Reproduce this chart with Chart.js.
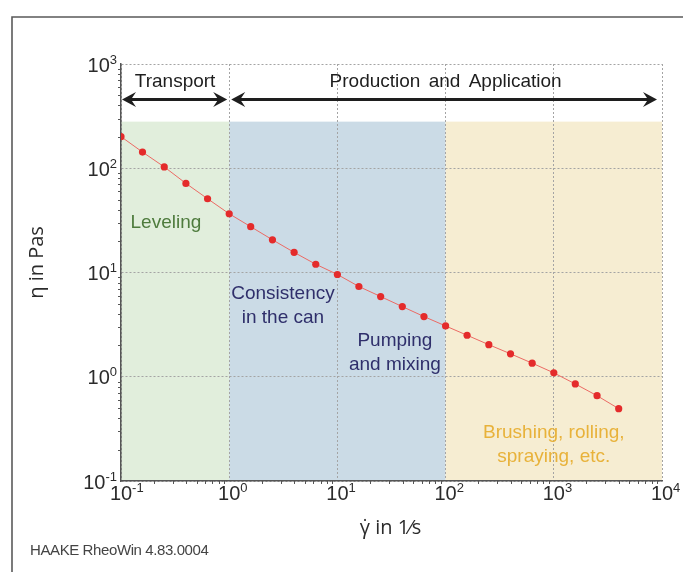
<!DOCTYPE html>
<html>
<head>
<meta charset="utf-8">
<script src="https://cdn.jsdelivr.net/npm/chart.js@4.4.1/dist/chart.umd.min.js"></script>
<style>
  html, body { margin: 0; padding: 0; background: #fff; }
  #wrap { width: 683px; height: 572px; position: relative; }
</style>
</head>
<body>
<div id="wrap"><canvas id="flowCurve" width="683" height="572"></canvas></div>
<script>
// Shear rate (1/s) and viscosity (Pa·s) of the measured flow curve
const shearRate = [0.1, 0.158, 0.251, 0.398, 0.631, 1, 1.58, 2.51, 3.98, 6.31,
                   10, 15.8, 25.1, 39.8, 63.1, 100, 158, 251, 398, 631,
                   1000, 1580, 2510, 3980];
const viscosity = [201, 143, 103, 71.6, 51, 36.6, 27.5, 20.6, 15.6, 12.0,
                   9.57, 7.34, 5.88, 4.71, 3.78, 3.07, 2.50, 2.03, 1.66, 1.35,
                   1.09, 0.853, 0.658, 0.494];

// Decade ticks and their labels (base^exponent)
const xTickValues = [0.1, 1, 10, 100, 1000, 10000];
const xTickLabels = ['10^-1', '10^0', '10^1', '10^2', '10^3', '10^4'];
const yTickValues = [0.1, 1, 10, 100, 1000];
const yTickLabels = ['10^-1', '10^0', '10^1', '10^2', '10^3'];

// Process regions along the shear-rate axis
const regionEdges = [0.1, 1, 100, 10000];
const regionTop = 280;
const regionNames = [['Leveling'], ['Consistency', 'in the can'], ['Pumping', 'and mixing'], ['Brushing, rolling,', 'spraying, etc.']];
const regionLabelX = [0.26, 3.14, 34, 1000];
const regionLabelY = [30, 4.8, 1.7, 0.223];

// Range arrows above the regions
const rangeNames = ['Transport', 'Production and Application'];
const rangeStart = [0.1, 1];
const rangeEnd = [1, 10000];
const rangeArrowY = 456;
const rangeLabelY = 680;

const regionFill = ['#e1eedc', '#cbdbe6', '#f6edd2'];
const regionText = ['#4e7b3d', '#2f2f6b', '#2f2f6b', '#e8b23a'];

const SANS = '"Liberation Sans", Arial, sans-serif';
const UI = '"Open Sans", "Noto Sans", sans-serif';

function drawPower(ctx, label, x, y, mode) {
  const [base, exp] = label.split('^');
  ctx.font = '20px ' + SANS;
  const bw = ctx.measureText(base).width;
  ctx.font = '13px ' + SANS;
  const ew = ctx.measureText(exp).width;
  let left;
  if (mode === 'y') left = x - ew - bw; else left = x - bw / 2;
  ctx.textAlign = 'left';
  ctx.textBaseline = 'middle';
  ctx.font = '20px ' + SANS;
  ctx.fillText(base, left, y + 2);
  ctx.font = '13px ' + SANS;
  ctx.fillText(exp, left + bw, y - 4);
}

function arrowHead(ctx, tipX, y, dir) {
  ctx.beginPath();
  ctx.moveTo(tipX, y);
  ctx.lineTo(tipX - dir * 14, y - 7.5);
  ctx.lineTo(tipX - dir * 9, y);
  ctx.lineTo(tipX - dir * 14, y + 7.5);
  ctx.closePath();
  ctx.fill();
}

const decorations = {
  id: 'decorations',
  beforeDraw(chart) {
    const { ctx, chartArea, scales: { x, y } } = chart;
    ctx.save();
    ctx.fillStyle = '#fff';
    ctx.fillRect(0, 0, chart.width, chart.height);
    const top = y.getPixelForValue(regionTop);
    for (let i = 0; i < regionFill.length; i++) {
      const x0 = x.getPixelForValue(regionEdges[i]);
      const x1 = x.getPixelForValue(regionEdges[i + 1]);
      ctx.fillStyle = regionFill[i];
      ctx.fillRect(x0, top, x1 - x0, chartArea.bottom - top);
    }
    ctx.restore();
  },
  afterDraw(chart) {
    const { ctx, chartArea, scales: { x, y } } = chart;
    ctx.save();

    // minor ticks on both axes
    ctx.strokeStyle = '#555';
    ctx.lineWidth = 1;
    for (let d = -1; d < 4; d++) {
      for (let m = 2; m <= 9; m++) {
        const v = m * Math.pow(10, d);
        const px = Math.round(x.getPixelForValue(v)) + 0.5;
        ctx.beginPath(); ctx.moveTo(px, chartArea.bottom); ctx.lineTo(px, chartArea.bottom + 3); ctx.stroke();
        if (d < 3) {
          const py = Math.round(y.getPixelForValue(v)) + 0.5;
          ctx.beginPath(); ctx.moveTo(chartArea.left, py); ctx.lineTo(chartArea.left - 3, py); ctx.stroke();
        }
      }
    }

    // tick labels
    ctx.fillStyle = '#2b2b2b';
    xTickValues.forEach((v, i) => drawPower(ctx, xTickLabels[i], x.getPixelForValue(v), chartArea.bottom + 11, 'x'));
    yTickValues.forEach((v, i) => drawPower(ctx, yTickLabels[i], chartArea.left - 4, y.getPixelForValue(v), 'y'));

    // region labels
    ctx.textAlign = 'center';
    ctx.textBaseline = 'middle';
    ctx.font = '19px ' + SANS;
    regionNames.forEach((lines, i) => {
      const cx = x.getPixelForValue(regionLabelX[i]);
      const cy = y.getPixelForValue(regionLabelY[i]);
      ctx.fillStyle = regionText[i];
      lines.forEach((t, k) => ctx.fillText(t, cx, cy + (k - (lines.length - 1) / 2) * 23.5));
    });

    // range arrows
    ctx.fillStyle = '#1e1e1e';
    ctx.strokeStyle = '#1e1e1e';
    ctx.lineWidth = 3;
    const ay = y.getPixelForValue(rangeArrowY);
    rangeNames.forEach((name, i) => {
      const a = x.getPixelForValue(rangeStart[i]) + (i === 0 ? 1 : 2);
      const b = x.getPixelForValue(rangeEnd[i]) - (i === 0 ? 2 : 5);
      ctx.beginPath(); ctx.moveTo(a + 8, ay); ctx.lineTo(b - 8, ay); ctx.stroke();
      arrowHead(ctx, a, ay, -1);
      arrowHead(ctx, b, ay, 1);
      const mid = x.getPixelForValue(Math.sqrt(rangeStart[i] * rangeEnd[i]));
      ctx.font = '19px ' + SANS;
      ctx.wordSpacing = '3px';
      ctx.textAlign = 'center';
      ctx.textBaseline = 'middle';
      ctx.fillText(name, mid, y.getPixelForValue(rangeLabelY));
      ctx.wordSpacing = '0px';
    });

    // axis titles
    ctx.fillStyle = '#2b2b2b';
    ctx.font = '20px ' + UI;
    ctx.textAlign = 'center';
    ctx.textBaseline = 'middle';
    ctx.fillText('\u03B3\u0307 in 1\u2044s', (chartArea.left + chartArea.right) / 2 - 1, 528);
    ctx.save();
    ctx.translate(37, (chartArea.top + chartArea.bottom) / 2 - 10);
    ctx.rotate(-Math.PI / 2);
    ctx.fillText('\u03B7 in Pas', 0, 0);
    ctx.restore();

    // software caption
    ctx.fillStyle = '#444';
    ctx.font = '15px ' + SANS;
    ctx.textAlign = 'left';
    ctx.letterSpacing = '-0.4px';
    ctx.fillText('HAAKE RheoWin 4.83.0004', 30, 551);
    ctx.letterSpacing = '0px';

    // outer frame
    ctx.strokeStyle = '#5a5a5a';
    ctx.lineWidth = 1.6;
    ctx.beginPath();
    ctx.moveTo(12, 572); ctx.lineTo(12, 17); ctx.lineTo(683, 17);
    ctx.stroke();

    ctx.restore();
  }
};

new Chart(document.getElementById('flowCurve'), {
  type: 'line',
  data: {
    datasets: [{
      data: shearRate.map((g, i) => ({ x: g, y: viscosity[i] })),
      borderColor: '#ec6a64',
      borderWidth: 1,
      pointBackgroundColor: '#e42b2b',
      pointBorderColor: '#e42b2b',
      pointRadius: 3.6,
      pointBorderWidth: 0,
      tension: 0
    }]
  },
  options: {
    responsive: false,
    animation: false,
    layout: { padding: { left: 121, right: 21, top: 64, bottom: 91 } },
    plugins: { legend: { display: false }, tooltip: { enabled: false } },
    scales: {
      x: {
        type: 'logarithmic', min: 0.1, max: 10000,
        afterBuildTicks: s => { s.ticks = xTickValues.map(v => ({ value: v })); },
        ticks: { display: false },
        grid: { color: '#a4a4a4', lineWidth: 1, drawTicks: false },
        border: { display: true, color: '#555', width: 1.5, dash: [2, 2] }
      },
      y: {
        type: 'logarithmic', min: 0.1, max: 1000,
        afterBuildTicks: s => { s.ticks = yTickValues.map(v => ({ value: v })); },
        ticks: { display: false },
        grid: { color: '#a4a4a4', lineWidth: 1, drawTicks: false },
        border: { display: true, color: '#555', width: 1.5, dash: [2, 2] }
      }
    }
  },
  plugins: [decorations]
});
</script>
</body>
</html>
